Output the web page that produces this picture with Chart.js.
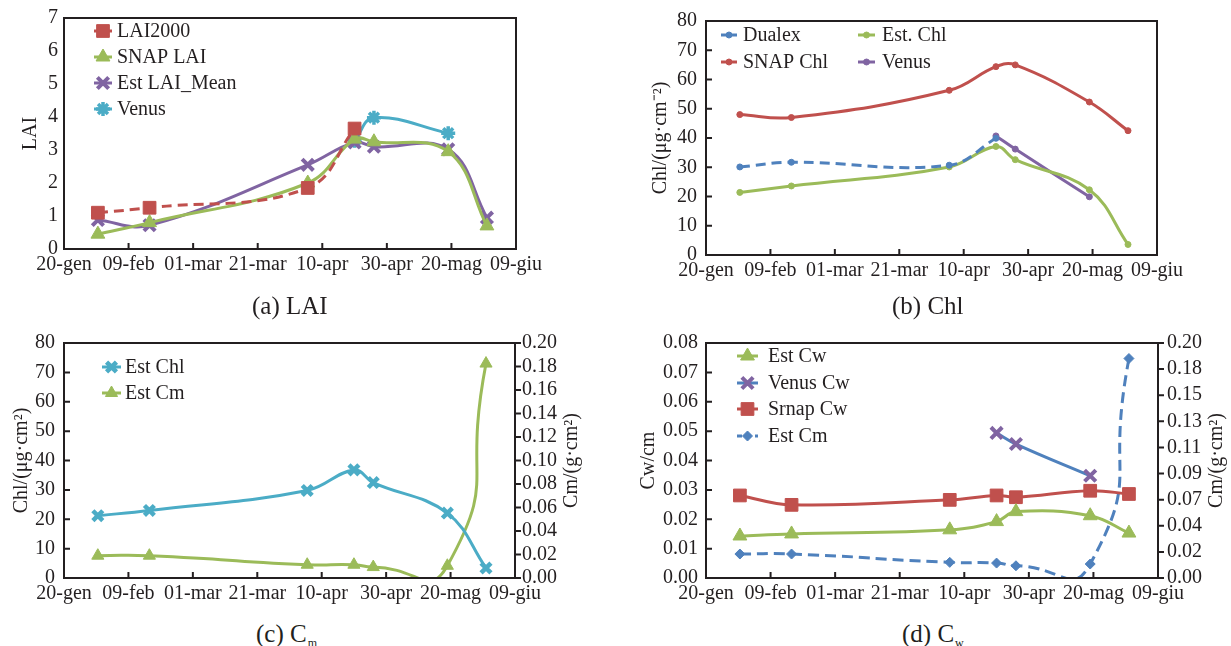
<!DOCTYPE html>
<html><head><meta charset="utf-8">
<script src="https://cdn.jsdelivr.net/npm/chart.js@4.4.0/dist/chart.umd.min.js"></script>
<style>
html,body{margin:0;padding:0;background:#fff;}
body{width:1231px;height:646px;position:relative;overflow:hidden;font-family:"Liberation Serif","Times New Roman",serif;color:#231f20;}
canvas{position:absolute;}
.cap{position:absolute;font-size:25px;line-height:25px;white-space:nowrap;}
.cap sub{font-size:12px;vertical-align:baseline;position:relative;top:5px;margin-left:1px;}
</style></head><body>
<canvas id="ca" width="615" height="290" style="left:0;top:0"></canvas>
<canvas id="cb" width="616" height="290" style="left:615px;top:0"></canvas>
<canvas id="cc" width="615" height="295" style="left:0;top:315px"></canvas>
<canvas id="cd" width="616" height="295" style="left:615px;top:315px"></canvas>
<div class="cap" style="left:252px;top:293px">(a) LAI</div>
<div class="cap" style="left:892px;top:293px">(b) Chl</div>
<div class="cap" style="left:256px;top:621px">(c) C<sub>m</sub></div>
<div class="cap" style="left:902px;top:621px">(d) C<sub>w</sub></div>
<script>
// ---------- data ----------
const xTickLabels = ['20-gen','09-feb','01-mar','21-mar','10-apr','30-apr','20-mag','09-giu'];
const obsDays = [10.5, 26.5, 75.5, 90, 96, 119, 131]; // days after 20-gen

// (a) LAI
const lai2000    = [1.1, 1.25, 1.85, 3.65, null, null, null];
const snapLai    = [0.45, 0.8, 2.0, 3.33, 3.25, 2.95, 0.7];
const estLaiMean = [0.88, 0.72, 2.55, 3.23, 3.1, 3.02, 0.95];
const venusLai   = [null, null, null, 3.28, 3.98, 3.51, null];

// (b) Chl
const dualexChl = [30.1, 31.7, 30.7, 39.9, null, null, null];
const snapChl   = [48.0, 47.0, 56.3, 64.4, 65.0, 52.3, 42.5];
const estChl    = [21.4, 23.6, 30.1, 37.1, 32.6, 22.3, 3.6];
const venusChl  = [null, null, null, 40.7, 36.2, 19.9, null];

// (c) Cm
const estChlC = [21.2, 23.0, 29.8, 36.8, 32.5, 22.1, 3.4];
const estCmC  = [0.019, 0.019, 0.0113, 0.0113, 0.0093, 0.0104, 0.1825];

// (d) Cw
const estCw   = [0.0143, 0.0150, 0.0164, 0.0192, 0.0226, 0.0212, 0.0153];
const venusCw = [null, null, null, 0.0494, 0.0456, 0.0348, null];
const srnapCw = [0.0281, 0.0249, 0.0266, 0.0281, 0.0275, 0.0297, 0.0286];
const estCmD  = [0.0204, 0.0204, 0.0133, 0.0127, 0.0104, 0.0119, 0.1868];
const cmTickLabelsD = ['0.00','0.02','0.04','0.07','0.09','0.11','0.13','0.15','0.18','0.20'];

// ---------- styling ----------
const RED='#C0504D', GREEN='#9BBB59', PURPLE='#8064A2', CYAN='#4BACC6', BLUE='#4F81BD', INK='#231f20';
const FONT='"Liberation Serif","Times New Roman",serif';
Chart.defaults.font.family = FONT;
Chart.defaults.font.size = 20;
Chart.defaults.color = INK;

const pts = vals => obsDays.map((d,i)=>({x:d,y:vals[i]})).filter(p=>p.y!==null);

function ds(label, vals, color, style, r, extra) {
  return Object.assign({
    label, data: pts(vals), borderColor: color, backgroundColor: color,
    pointBackgroundColor: color, pointBorderColor: color, pointStyle: style,
    pointRadius: r, pointHoverRadius: r, borderWidth: 3, pointBorderWidth: 1,
    tension: 0.4, fill: false
  }, extra || {});
}

function xScale(h) {
  return {
    type: 'linear', min: 0, max: 140,
    ticks: { stepSize: 20, autoSkip: false, maxRotation: 0, minRotation: 0, padding: 4,
             callback: v => xTickLabels[Math.round(v/20)] },
    grid: { display: false, drawTicks: false }, border: { display: false },
    afterFit: s => { s.height = h; }
  };
}
function yScale(pos, min, max, step, w, pad, fmt, title, titlePad) {
  const o = {
    type: 'linear', position: pos, min, max,
    ticks: { stepSize: step, autoSkip: false, padding: pad, callback: fmt },
    grid: { display: false, drawTicks: false }, border: { display: false },
    afterFit: s => { s.width = w; }
  };
  if (title) o.title = { display: true, text: title, font: { size: 20 }, padding: { top: titlePad, bottom: 0 } };
  return o;
}

// plugin: frame, inward ticks, right title, legend
const decor = {
  id: 'decor',
  afterDraw(chart, args, o) {
    const ctx = chart.ctx, a = chart.chartArea, sc = chart.scales;
    ctx.save();
    ctx.strokeStyle = INK; ctx.lineWidth = 2;
    ctx.strokeRect(a.left, a.top, a.right - a.left, a.bottom - a.top);
    ctx.beginPath();
    sc.x.ticks.forEach(t => {
      const px = sc.x.getPixelForValue(t.value);
      if (px > a.left + 2 && px < a.right - 2) { ctx.moveTo(px, a.bottom); ctx.lineTo(px, a.bottom - 6); }
    });
    if (o.leftTicks) sc.y.ticks.forEach(t => {
      const py = sc.y.getPixelForValue(t.value);
      if (py > a.top + 2 && py < a.bottom - 2) { ctx.moveTo(a.left, py); ctx.lineTo(a.left + 6, py); }
    });
    if (sc.y2) sc.y2.ticks.forEach(t => {
      const py = sc.y2.getPixelForValue(t.value);
      ctx.moveTo(a.right, py); ctx.lineTo(a.right + 6, py);
    });
    ctx.stroke();
    if (o.rightTitle) {
      ctx.save();
      ctx.translate(o.rightTitleX, (a.top + a.bottom) / 2);
      ctx.rotate(-Math.PI / 2);
      ctx.font = '20px ' + FONT; ctx.fillStyle = INK;
      ctx.textAlign = 'center'; ctx.textBaseline = 'middle';
      ctx.fillText(o.rightTitle, 0, 0);
      ctx.restore();
    }
    (o.legend || []).forEach(it => {
      const d = chart.data.datasets[it.ds];
      ctx.save();
      ctx.strokeStyle = d.borderColor; ctx.lineWidth = 3;
      ctx.setLineDash(it.dash ? [5, 4] : []);
      ctx.beginPath(); ctx.moveTo(it.x0, it.y); ctx.lineTo(it.x1, it.y); ctx.stroke();
      ctx.setLineDash([]);
      ctx.fillStyle = d.pointBackgroundColor; ctx.strokeStyle = d.pointBorderColor;
      ctx.lineWidth = d.pointBorderWidth;
      Chart.helpers.drawPoint(ctx, { pointStyle: d.pointStyle, radius: it.r || d.pointRadius, borderWidth: d.pointBorderWidth, rotation: 0 }, (it.x0 + it.x1) / 2, it.y);
      ctx.fillStyle = INK; ctx.font = '20px ' + FONT;
      ctx.textAlign = 'left'; ctx.textBaseline = 'middle';
      ctx.fillText(d.label, it.tx, it.y + 1);
      ctx.restore();
    });
    ctx.restore();
  }
};

const base = (pad) => ({
  responsive: false, animation: false, devicePixelRatio: 1,
  layout: { padding: pad },
  elements: { line: { capBezierPoints: false } },
});

// ---------- (a) LAI ----------
new Chart(document.getElementById('ca'), {
  type: 'line',
  data: { datasets: [
    ds('LAI2000', lai2000, RED, 'rect', 9, { borderDash: [10, 6] }),
    ds('SNAP LAI', snapLai, GREEN, 'triangle', 8),
    ds('Est LAI_Mean', estLaiMean, PURPLE, 'crossRot', 8, { pointBorderWidth: 4 }),
    ds('Venus', venusLai, CYAN, 'star', 7, { pointBorderWidth: 3.5 })
  ]},
  options: Object.assign(base({ left: 0, top: 13, right: 99, bottom: 0 }), {
    scales: {
      x: xScale(41),
      y: yScale('left', 0, 7, 1, 64, 6, v => v, 'LAI', 19)
    },
    plugins: { legend: { display: false }, tooltip: { enabled: false },
      decor: { leftTicks: false, legend: [
        { ds: 0, x0: 94, x1: 112, tx: 117, y: 31, dash: false },
        { ds: 1, x0: 94, x1: 112, tx: 117, y: 57 },
        { ds: 2, x0: 94, x1: 112, tx: 117, y: 83 },
        { ds: 3, x0: 94, x1: 112, tx: 117, y: 109 }
      ]}}
  }),
  plugins: [decor]
});

// ---------- (b) Chl ----------
new Chart(document.getElementById('cb'), {
  type: 'line',
  data: { datasets: [
    ds('Dualex', dualexChl, BLUE, 'circle', 3, { borderDash: [10, 6] }),
    ds('SNAP Chl', snapChl, RED, 'circle', 3),
    ds('Est. Chl', estChl, GREEN, 'circle', 3),
    ds('Venus', venusChl, PURPLE, 'circle', 3)
  ]},
  options: Object.assign(base({ left: 0, top: 18, right: 74, bottom: 0 }), {
    scales: {
      x: xScale(35),
      y: yScale('left', 0, 80, 10, 91, 9, v => v, 'Chl/(μg·cm⁻²)', 34)
    },
    plugins: { legend: { display: false }, tooltip: { enabled: false },
      decor: { leftTicks: true, legend: [
        { ds: 0, x0: 106, x1: 122, tx: 128, y: 35 },
        { ds: 1, x0: 106, x1: 122, tx: 128, y: 62 },
        { ds: 2, x0: 243, x1: 260, tx: 267, y: 35 },
        { ds: 3, x0: 243, x1: 260, tx: 267, y: 62 }
      ]}}
  }),
  plugins: [decor]
});

// ---------- (c) Cm ----------
new Chart(document.getElementById('cc'), {
  type: 'line',
  data: { datasets: [
    ds('Est Chl', estChlC, CYAN, 'crossRot', 7, { pointBorderWidth: 4.5, yAxisID: 'y' }),
    ds('Est Cm', estCmC, GREEN, 'triangle', 7, { yAxisID: 'y2', tension: 0.62 })
  ]},
  options: Object.assign(base({ left: 0, top: 28, right: 0, bottom: 0 }), {
    scales: {
      x: xScale(32),
      y: yScale('left', 0, 80, 10, 64, 9, v => v, 'Chl/(μg·cm²)', 10),
      y2: yScale('right', 0, 0.2, 0.02, 100, 7, v => v.toFixed(2))
    },
    plugins: { legend: { display: false }, tooltip: { enabled: false },
      decor: { leftTicks: true, rightTitle: 'Cm/(g·cm²)', rightTitleX: 572, legend: [
        { ds: 0, x0: 102, x1: 121, tx: 125, y: 52 },
        { ds: 1, x0: 102, x1: 121, tx: 125, y: 78 }
      ]}}
  }),
  plugins: [decor]
});

// ---------- (d) Cw ----------
new Chart(document.getElementById('cd'), {
  type: 'line',
  data: { datasets: [
    ds('Est Cw', estCw, GREEN, 'triangle', 8, { yAxisID: 'y' }),
    ds('Venus Cw', venusCw, BLUE, 'crossRot', 8, { pointBackgroundColor: PURPLE, pointBorderColor: PURPLE, pointBorderWidth: 4, yAxisID: 'y' }),
    ds('Srnap Cw', srnapCw, RED, 'rect', 9, { yAxisID: 'y' }),
    ds('Est Cm', estCmD, BLUE, 'rectRot', 5, { borderDash: [11, 6], yAxisID: 'y2', tension: 0.62 })
  ]},
  options: Object.assign(base({ left: 0, top: 28, right: 0, bottom: 0 }), {
    scales: {
      x: xScale(32),
      y: yScale('left', 0, 0.08, 0.01, 91, 8, v => v.toFixed(2), 'Cw/cm', 22),
      y2: Object.assign(yScale('right', 0, 0.2, 0.02, 73, 9, (v, i) => cmTickLabelsD[i]), {
        afterBuildTicks: s => { s.ticks = cmTickLabelsD.map((_, i) => ({ value: 0.2 * i / 9 })); }
      })
    },
    plugins: { legend: { display: false }, tooltip: { enabled: false },
      decor: { leftTicks: true, rightTitle: 'Cm/(g·cm²)', rightTitleX: 602, legend: [
        { ds: 0, x0: 122, x1: 143, tx: 153, y: 41 },
        { ds: 1, x0: 122, x1: 143, tx: 153, y: 68 },
        { ds: 2, x0: 122, x1: 143, tx: 153, y: 94 },
        { ds: 3, x0: 122, x1: 143, tx: 153, y: 121, dash: true }
      ]}}
  }),
  plugins: [decor]
});
</script>
</body></html>
